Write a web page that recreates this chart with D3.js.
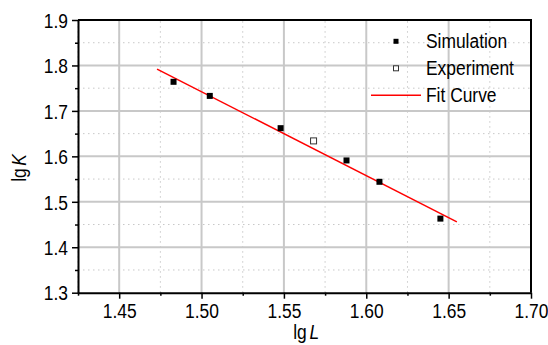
<!DOCTYPE html>
<html>
<head>
<meta charset="utf-8">
<script src="https://cdn.jsdelivr.net/npm/d3@7"></script>
<style>
  body { margin: 0; background: #fff; }
  text { font-family: "Liberation Sans", Arial, sans-serif; fill: #000; }
</style>
</head>
<body>
<div id="chart"></div>
<script>
// data
const simL = [1.483, 1.505, 1.548, 1.588, 1.608, 1.645];
const simK = [1.764, 1.733, 1.662, 1.591, 1.544, 1.463];
const expL = [1.568];
const expK = [1.634];
const fitL = [1.473, 1.655];
const fitK = [1.792, 1.456];
const xTicks = [1.45, 1.50, 1.55, 1.60, 1.65, 1.70];
const yTicks = [1.3, 1.4, 1.5, 1.6, 1.7, 1.8, 1.9];
const legendNames = ['Simulation', 'Experiment', 'Fit Curve'];

const width = 548, height = 345;
const margin = { top: 20, right: 17, bottom: 52.3, left: 78 };
const fontSize = 20;
const squeeze = 0.87; // the text in the picture is narrow

const svg = d3.select('#chart')
  .append('svg')
  .attr('width', width)
  .attr('height', height);

const x = d3.scaleLinear()
  .domain([1.425, 1.70])
  .range([margin.left, width - margin.right]);

const y = d3.scaleLinear()
  .domain([1.3, 1.9])
  .range([height - margin.bottom, margin.top]);

const xMinor = d3.range(1.425, 1.70, 0.05).map((v) => +v.toFixed(3));
const yMinor = d3.range(1.35, 1.9, 0.1).map((v) => +v.toFixed(2));

// grid
const grid = svg.append('g');
grid.selectAll('.vminor')
  .data(xMinor)
  .enter()
  .append('line')
    .attr('x1', (d) => x(d)).attr('x2', (d) => x(d))
    .attr('y1', y(1.3)).attr('y2', y(1.9))
    .attr('stroke', '#c8c8c8')
    .attr('stroke-width', 1)
    .attr('stroke-dasharray', '1.5,3.5');
grid.selectAll('.hminor')
  .data(yMinor)
  .enter()
  .append('line')
    .attr('x1', x(1.425)).attr('x2', x(1.70))
    .attr('y1', (d) => y(d)).attr('y2', (d) => y(d))
    .attr('stroke', '#c8c8c8')
    .attr('stroke-width', 1)
    .attr('stroke-dasharray', '1.5,3.5');
grid.selectAll('.vmajor')
  .data(xTicks.slice(0, -1))
  .enter()
  .append('line')
    .attr('x1', (d) => x(d)).attr('x2', (d) => x(d))
    .attr('y1', y(1.3)).attr('y2', y(1.9))
    .attr('stroke', '#c8c8c8')
    .attr('stroke-width', 2);
grid.selectAll('.hmajor')
  .data(yTicks.slice(1, -1))
  .enter()
  .append('line')
    .attr('x1', x(1.425)).attr('x2', x(1.70))
    .attr('y1', (d) => y(d)).attr('y2', (d) => y(d))
    .attr('stroke', '#c8c8c8')
    .attr('stroke-width', 2);

// frame top / right
svg.append('path')
  .attr('d', `M${x(1.425)},${y(1.9)}H${x(1.70)}V${y(1.3)}`)
  .attr('fill', 'none')
  .attr('stroke', '#000')
  .attr('stroke-width', 2);

// axes
const xAxis = svg.append('g')
  .attr('transform', `translate(0,${y(1.3)})`)
  .call(d3.axisBottom(x).tickValues(xTicks).tickFormat(d3.format('.2f')).tickSize(6).tickSizeOuter(0));
svg.append('g')
  .attr('transform', `translate(0,${y(1.3)})`)
  .call(d3.axisBottom(x).tickValues(xMinor).tickFormat('').tickSize(3).tickSizeOuter(0))
  .call((g) => g.select('.domain').remove());

const yAxis = svg.append('g')
  .attr('transform', `translate(${x(1.425)},0)`)
  .call(d3.axisLeft(y).tickValues(yTicks).tickFormat(d3.format('.1f')).tickSize(6).tickSizeOuter(0));
svg.append('g')
  .attr('transform', `translate(${x(1.425)},0)`)
  .call(d3.axisLeft(y).tickValues(yMinor).tickFormat('').tickSize(3).tickSizeOuter(0))
  .call((g) => g.select('.domain').remove());

svg.selectAll('.domain').attr('stroke', '#000').attr('stroke-width', 2);
svg.selectAll('.tick line').attr('stroke', '#000').attr('stroke-width', 1.5);
xAxis.selectAll('.tick text')
  .attr('y', 11)
  .attr('transform', `scale(${squeeze},1)`)
  .style('font-size', fontSize + 'px')
  .style('font-family', '"Liberation Sans", Arial, sans-serif');
yAxis.selectAll('.tick text')
  .attr('x', -10 / squeeze)
  .attr('dy', '0.36em')
  .attr('transform', `scale(${squeeze},1)`)
  .style('font-size', fontSize + 'px')
  .style('font-family', '"Liberation Sans", Arial, sans-serif');

// fit line
svg.append('line')
  .attr('x1', x(fitL[0])).attr('y1', y(fitK[0]))
  .attr('x2', x(fitL[1])).attr('y2', y(fitK[1]))
  .attr('stroke', '#ff0000')
  .attr('stroke-width', 1.5);

// points
const sim = simL.map((l, i) => ({ l, k: simK[i] }));
svg.append('g')
  .selectAll('rect')
  .data(sim)
  .enter()
  .append('rect')
    .attr('x', (d) => x(d.l) - 3)
    .attr('y', (d) => y(d.k) - 3)
    .attr('width', 6)
    .attr('height', 6)
    .attr('fill', '#000');

const exp = expL.map((l, i) => ({ l, k: expK[i] }));
svg.append('g')
  .selectAll('rect')
  .data(exp)
  .enter()
  .append('rect')
    .attr('x', (d) => x(d.l) - 3)
    .attr('y', (d) => y(d.k) - 3)
    .attr('width', 6)
    .attr('height', 6)
    .attr('fill', '#fff')
    .attr('stroke', '#333')
    .attr('stroke-width', 1);

// legend
const legend = svg.append('g').attr('transform', 'translate(396,41.3)');
const rowH = 27;
legendNames.forEach((name, i) => {
  const g = legend.append('g').attr('transform', `translate(0,${i * rowH})`);
  if (i === 0) {
    g.append('rect').attr('x', -2.5).attr('y', -2.5).attr('width', 5).attr('height', 5).attr('fill', '#000');
  } else if (i === 1) {
    g.append('rect').attr('x', -2.5).attr('y', -2.5).attr('width', 5).attr('height', 5)
      .attr('fill', '#fff').attr('stroke', '#333').attr('stroke-width', 1);
  } else {
    g.append('line').attr('x1', -25).attr('x2', 25).attr('y1', 0).attr('y2', 0)
      .attr('stroke', '#ff0000').attr('stroke-width', 1.5);
  }
  g.append('text')
    .attr('x', 30 / squeeze)
    .attr('y', 0)
    .attr('dy', '0.32em')
    .attr('transform', `scale(${squeeze},1)`)
    .style('font-size', fontSize + 'px')
    .text(name);
});

// axis titles
svg.append('g')
  .attr('transform', `translate(${x(1.5635)},339)`)
  .append('text')
    .attr('text-anchor', 'middle')
    .attr('transform', `scale(${squeeze},1)`)
    .style('font-size', fontSize + 'px')
    .html('lg<tspan dx="3" font-style="italic">L</tspan>');

svg.append('g')
  .attr('transform', `translate(26,168) rotate(-90)`)
  .append('text')
    .attr('text-anchor', 'middle')
    .attr('transform', `scale(${squeeze},1)`)
    .style('font-size', fontSize + 'px')
    .html('lg<tspan dx="3" font-style="italic">K</tspan>');
</script>
</body>
</html>
